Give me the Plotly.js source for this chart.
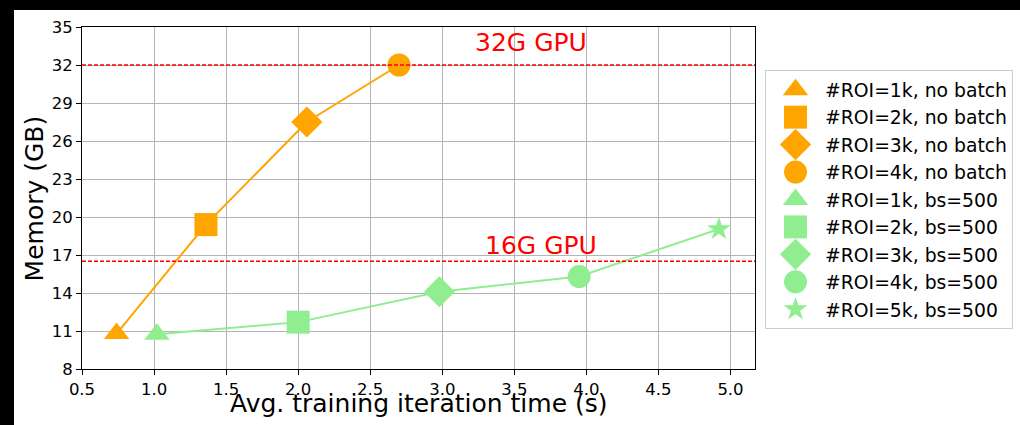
<!DOCTYPE html>
<html>
<head>
<meta charset="utf-8">
<script src="https://cdn.plot.ly/plotly-3.0.1.min.js"></script>
<style>
  html, body { margin: 0; padding: 0; background: #000; width: 1020px; height: 425px; overflow: hidden; }
  #chart { position: absolute; left: 14px; top: 10px; width: 1006px; height: 415px; background: #fff; }
</style>
</head>
<body>
<div id="chart"></div>
<script>
// ---- data ----
const noBatchTime = [0.74, 1.36, 2.06, 2.70];
const noBatchMem = [10.8, 19.4, 27.5, 32.0];
const noBatchLabels = ['#ROI=1k, no batch', '#ROI=2k, no batch', '#ROI=3k, no batch', '#ROI=4k, no batch'];

const bs500Time = [1.02, 2.00, 2.98, 3.95, 4.92];
const bs500Mem = [10.75, 11.7, 14.1, 15.3, 19.05];
const bs500Labels = ['#ROI=1k, bs=500', '#ROI=2k, bs=500', '#ROI=3k, bs=500', '#ROI=4k, bs=500', '#ROI=5k, bs=500'];

const gpuLimits = [32, 16.5];
const gpuLabels = ['32G GPU', '16G GPU'];
const gpuLabelX = [3.21, 3.28];
const gpuLabelY = [33, 17];

const xTicks = [0.5, 1.0, 1.5, 2.0, 2.5, 3.0, 3.5, 4.0, 4.5, 5.0];
const yTicks = [8, 11, 14, 17, 20, 23, 26, 29, 32, 35];

const xTitle = 'Avg. training iteration time (s)';
const yTitle = 'Memory (GB)';

// ---- styles ----
const ORANGE = '#FFA500';
const GREEN = '#90EE90';
const symbols = ['triangle-up', 'square', 'diamond', 'circle', 'star'];
const sizes = {'triangle-up': 22, 'square': 23, 'diamond': 24, 'circle': 23, 'star': 18};
const FONT = 'DejaVu Sans, sans-serif';

const traces = [];
traces.push({x: noBatchTime, y: noBatchMem, mode: 'lines', line: {color: ORANGE, width: 2}, showlegend: false, hoverinfo: 'skip'});
traces.push({x: bs500Time, y: bs500Mem, mode: 'lines', line: {color: GREEN, width: 2}, showlegend: false, hoverinfo: 'skip'});
noBatchTime.forEach((t, i) => {
  traces.push({x: [t], y: [noBatchMem[i]], mode: 'markers', name: noBatchLabels[i],
    marker: {color: ORANGE, symbol: symbols[i], size: sizes[symbols[i]], line: {width: 0}}});
});
bs500Time.forEach((t, i) => {
  traces.push({x: [t], y: [bs500Mem[i]], mode: 'markers', name: bs500Labels[i],
    marker: {color: GREEN, symbol: symbols[i], size: sizes[symbols[i]], line: {width: 0}}});
});

const shapes = gpuLimits.map(v => ({
  type: 'line', xref: 'paper', x0: 0, x1: 1, yref: 'y', y0: v, y1: v,
  line: {color: '#ff0000', width: 1.5, dash: '4px,2px'}, layer: 'above'
}));

const annotations = gpuLabels.map((txt, i) => ({
  text: txt, x: gpuLabelX[i], y: gpuLabelY[i], xref: 'x', yref: 'y',
  xanchor: 'left', yanchor: 'bottom', yshift: -7, showarrow: false,
  font: {family: FONT, size: 25, color: '#ff0000'}
}));
annotations.push({
  text: xTitle, xref: 'paper', yref: 'paper', x: 0.5, y: -0.1,
  xanchor: 'center', yanchor: 'middle', showarrow: false,
  font: {family: FONT, size: 25, color: '#000'}
});
annotations.push({
  text: yTitle, xref: 'paper', yref: 'paper', x: -0.0707, y: 0.5,
  xanchor: 'center', yanchor: 'middle', textangle: -90, showarrow: false,
  font: {family: FONT, size: 25, color: '#000'}
});

const axisCommon = {
  showline: true, mirror: true, linecolor: '#000', linewidth: 1,
  ticks: 'outside', ticklen: 5, tickwidth: 1, tickcolor: '#000',
  showgrid: true, gridcolor: '#b4b4b4', gridwidth: 1, zeroline: false,
  tickfont: {family: FONT, size: 16.5, color: '#000'},
  automargin: false
};

const layout = {
  width: 1006, height: 415,
  margin: {l: 68, r: 265, t: 17, b: 56, pad: 0, autoexpand: false},
  paper_bgcolor: '#fff', plot_bgcolor: '#fff',
  font: {family: FONT, color: '#000'},
  xaxis: Object.assign({}, axisCommon, {
    range: [0.5, 5.17], tickvals: xTicks, ticktext: xTicks.map(v => v.toFixed(1))
  }),
  yaxis: Object.assign({}, axisCommon, {
    range: [8, 35], tickvals: yTicks
  }),
  legend: {
    x: 1.0149, xanchor: 'left', y: 0.8743, yanchor: 'top',
    bgcolor: '#fff', bordercolor: '#cccccc', borderwidth: 1,
    font: {family: FONT, size: 18.8, color: '#000'},
    itemsizing: 'trace', itemwidth: 49, tracegroupgap: 0
  },
  shapes: shapes,
  annotations: annotations,
  showlegend: true
};

Plotly.newPlot('chart', traces, layout, {staticPlot: true, displayModeBar: false}).then(() => {
  // Plotly caps legend symbols at 16px; scale them up to the trace's marker size.
  document.querySelectorAll('#chart .legend .traces').forEach(g => {
    const d = g.__data__;
    if (!d || !d[0] || !d[0].trace || !d[0].trace.marker) return;
    const s = d[0].trace.marker.size;
    if (s > 16) {
      const sc = s / 16;
      g.querySelectorAll('path.scatterpts').forEach(p => {
        const t = p.getAttribute('transform') || '';
        p.setAttribute('transform', t + ' scale(' + sc + ')');
      });
    }
  });
});
</script>
</body>
</html>
